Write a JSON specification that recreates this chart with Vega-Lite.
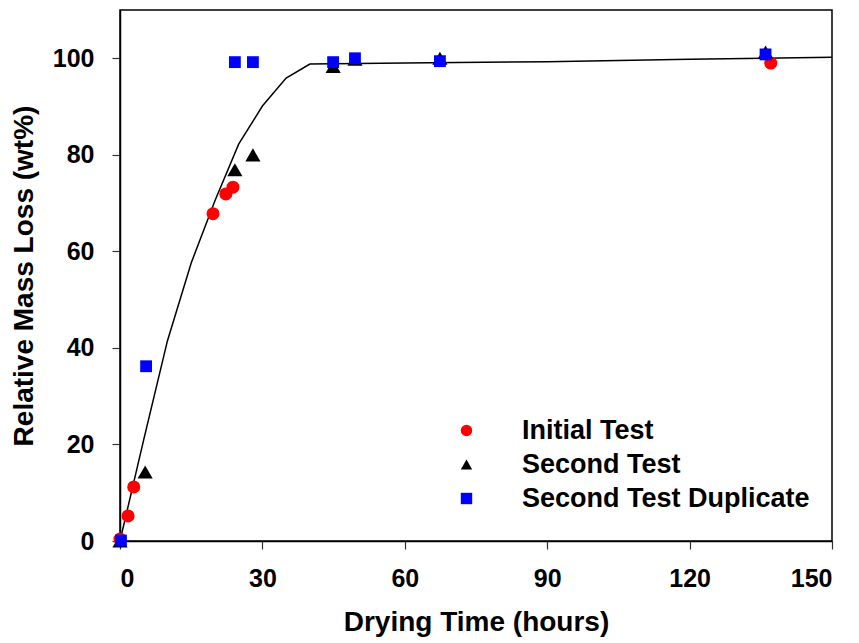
{
  "$schema": "https://vega.github.io/schema/vega-lite/v6.json",
  "width": 712,
  "height": 531,
  "autosize": {"type": "none"},
  "padding": {"left": 120, "top": 10, "right": 27, "bottom": 102},
  "background": "white",
  "config": {
    "view": {"stroke": "black", "strokeWidth": 1.5},
    "font": "Liberation Sans",
    "axis": {
      "grid": false,
      "domainColor": "black",
      "domainWidth": 1.5,
      "tickColor": "#333333",
      "tickWidth": 1.2,
      "tickSize": 8,
      "labelFont": "Liberation Sans",
      "labelFontSize": 25,
      "labelFontWeight": "bold",
      "labelColor": "black",
      "titleFont": "Liberation Sans",
      "titleFontSize": 28,
      "titleFontWeight": "bold",
      "titleColor": "black"
    },
    "legend": {
      "title": null,
      "orient": "none",
      "legendX": 333,
      "legendY": 407,
      "labelFont": "Liberation Sans",
      "labelFontSize": 27,
      "labelFontWeight": "bold",
      "labelColor": "black",
      "labelOffset": 42,
      "labelLimit": 0,
      "rowPadding": 6,
      "symbolSize": 130
    }
  },
  "datasets": {
    "points": [
      {"series": "Initial Test", "time": 0, "loss": 0.4},
      {"series": "Initial Test", "time": 1.7, "loss": 5.2},
      {"series": "Initial Test", "time": 2.9, "loss": 11.2},
      {"series": "Initial Test", "time": 19.6, "loss": 67.8},
      {"series": "Initial Test", "time": 22.3, "loss": 71.9},
      {"series": "Initial Test", "time": 23.8, "loss": 73.3},
      {"series": "Initial Test", "time": 137.1, "loss": 99.0},
      {"series": "Second Test", "time": 0, "loss": 0},
      {"series": "Second Test", "time": 5.3, "loss": 14.3},
      {"series": "Second Test", "time": 24.2, "loss": 76.9},
      {"series": "Second Test", "time": 28.0, "loss": 80.0},
      {"series": "Second Test", "time": 44.9, "loss": 98.3},
      {"series": "Second Test", "time": 49.5, "loss": 99.8},
      {"series": "Second Test", "time": 67.4, "loss": 100.0},
      {"series": "Second Test", "time": 136.0, "loss": 101.3},
      {"series": "Second Test Duplicate", "time": 0.2, "loss": 0.1},
      {"series": "Second Test Duplicate", "time": 5.5, "loss": 36.2},
      {"series": "Second Test Duplicate", "time": 24.2, "loss": 99.2},
      {"series": "Second Test Duplicate", "time": 28.0, "loss": 99.2},
      {"series": "Second Test Duplicate", "time": 44.9, "loss": 99.2},
      {"series": "Second Test Duplicate", "time": 49.5, "loss": 100.0},
      {"series": "Second Test Duplicate", "time": 67.4, "loss": 99.4},
      {"series": "Second Test Duplicate", "time": 136.0, "loss": 100.8}
    ],
    "fit": [
      {"t": 0, "fit": 0},
      {"t": 5, "fit": 21},
      {"t": 10, "fit": 41.5},
      {"t": 15, "fit": 57.6},
      {"t": 20, "fit": 70.5},
      {"t": 25, "fit": 82.2},
      {"t": 30, "fit": 90.1},
      {"t": 35, "fit": 95.9},
      {"t": 40, "fit": 98.8},
      {"t": 60, "fit": 99.0},
      {"t": 90, "fit": 99.3},
      {"t": 120, "fit": 99.8},
      {"t": 150, "fit": 100.2}
    ]
  },
  "encoding": {
    "x": {
      "field": "time",
      "type": "quantitative",
      "scale": {"domain": [0, 150], "nice": false, "zero": false},
      "axis": {"values": [0, 30, 60, 90, 120, 150], "labelPadding": 17, "title": "Drying Time (hours)", "titlePadding": 17}
    },
    "y": {
      "field": "loss",
      "type": "quantitative",
      "scale": {"domain": [0, 110], "nice": false, "zero": false},
      "axis": {"values": [0, 20, 40, 60, 80, 100], "labelPadding": 18, "title": "Relative Mass Loss (wt%)", "titlePadding": 14}
    }
  },
  "layer": [
    {
      "data": {"name": "fit"},
      "mark": {"type": "line", "color": "black", "strokeWidth": 1.5},
      "encoding": {
        "x": {"field": "t", "type": "quantitative"},
        "y": {"field": "fit", "type": "quantitative"}
      }
    },
    {
      "data": {"name": "points"},
      "transform": [{"filter": "datum.series === 'Initial Test'"}],
      "mark": {"type": "point", "filled": true, "opacity": 1, "size": 170},
      "encoding": {
        "color": {"field": "series", "type": "nominal", "scale": {"domain": ["Initial Test", "Second Test", "Second Test Duplicate"], "range": ["#ff0000", "#000000", "#0000ff"]}},
        "shape": {"field": "series", "type": "nominal", "scale": {"domain": ["Initial Test", "Second Test", "Second Test Duplicate"], "range": ["circle", "triangle-up", "square"]}}
      }
    },
    {
      "data": {"name": "points"},
      "transform": [{"filter": "datum.series === 'Second Test'"}],
      "mark": {"type": "point", "filled": true, "opacity": 1, "size": 230},
      "encoding": {
        "color": {"field": "series", "type": "nominal"},
        "shape": {"field": "series", "type": "nominal"}
      }
    },
    {
      "data": {"name": "points"},
      "transform": [{"filter": "datum.series === 'Second Test Duplicate'"}],
      "mark": {"type": "point", "filled": true, "opacity": 1, "size": 140},
      "encoding": {
        "color": {"field": "series", "type": "nominal"},
        "shape": {"field": "series", "type": "nominal"}
      }
    }
  ]
}
